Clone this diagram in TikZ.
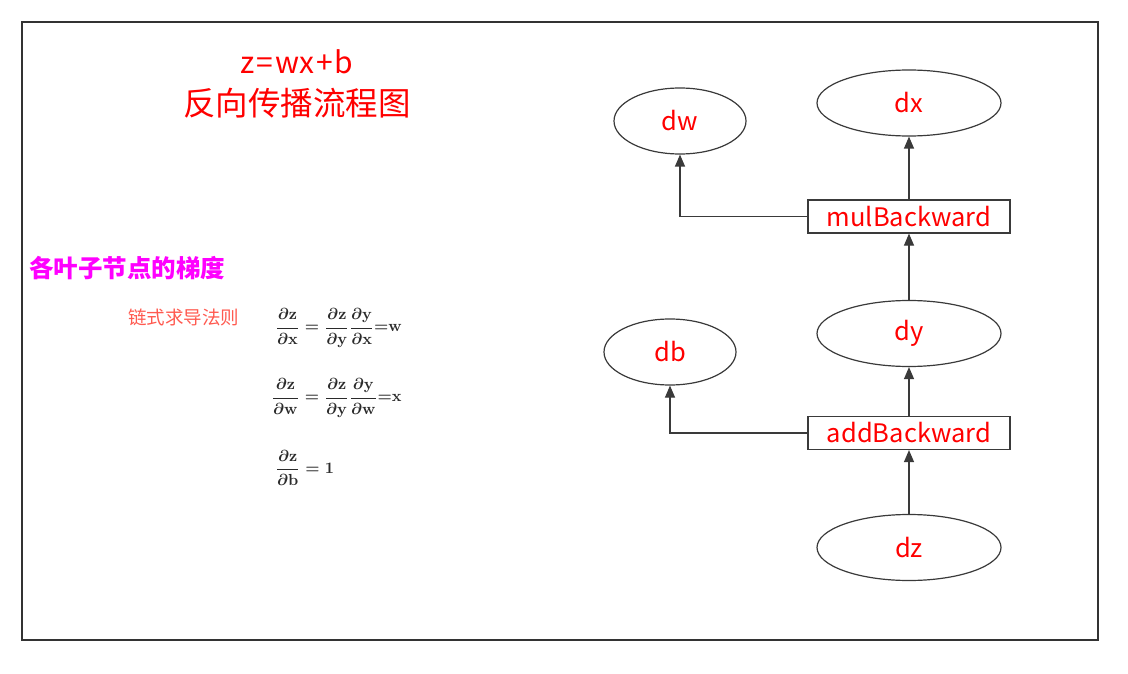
\documentclass[tikz,border=0pt]{standalone}
\usepackage{fontspec}
\usepackage{amsmath}
\usepackage{bm}
\newfontfamily\cjk{Noto Sans CJK SC}
\usetikzlibrary{arrows.meta,shapes.geometric}
\definecolor{framegray}{HTML}{333333}
\definecolor{edgegray}{HTML}{3A3A3A}
\definecolor{labelred}{HTML}{FF0000}
\definecolor{titlemag}{HTML}{FF00FF}
\definecolor{rulered}{HTML}{FF5A50}
\definecolor{mathgray}{HTML}{2A2A2A}
\tikzset{
  leaf/.style={ellipse,draw=edgegray,line width=1.2pt,minimum width=132pt,minimum height=66pt,inner sep=0pt,
    font=\cjk\fontsize{25.5}{28}\selectfont,text=labelred},
  bigleaf/.style={leaf,minimum width=184pt,minimum height=66pt},
  opbox/.style={rectangle,draw=edgegray,line width=1.2pt,minimum width=202pt,minimum height=33pt,inner sep=0pt,
    font=\cjk\fontsize{25.5}{28}\selectfont,text=labelred},
  flow/.style={draw=edgegray,line width=1.2pt,-{Triangle[length=12pt,width=10pt]}},
  formula/.style={anchor=west,inner sep=0pt,text=mathgray,scale=1.75,transform shape=false}
}
\newcommand{\pd}[2]{\dfrac{\partial\mathbf{#1}}{\partial\mathbf{#2}}}
\begin{document}
\begin{tikzpicture}[x=1pt,y=-1pt]
\useasboundingbox[fill=white] (0,0) rectangle (1128,674);
\draw[framegray,line width=1.3pt] (22,22) rectangle (1098,640);

\node[text=labelred,font=\cjk\fontsize{30}{32}\selectfont,inner sep=0pt] (t1) at (297,62) {z\hspace{2pt}=\hspace{2pt}wx\hspace{2pt}+\hspace{2pt}b};
\node[text=labelred,font=\cjk\fontsize{32.5}{36}\selectfont,inner sep=0pt] (t2) at (297,103) {反向传播流程图};

\node[text=titlemag,font=\cjk\bfseries\fontsize{24.5}{26}\selectfont,inner sep=0pt,anchor=west] (h1) at (29,268) {各叶子节点的梯度};
\node[text=rulered,font=\cjk\fontsize{18.5}{20}\selectfont,inner sep=0pt,anchor=west] (h2) at (128,317) {链式求导法则};

\node[anchor=west,inner sep=0pt,text=mathgray] (f1) at (275,328) {\scalebox{1.6}{\boldmath$\pd{z}{x}=\pd{z}{y}\pd{y}{x}{=}\mathbf{w}$}};
\node[anchor=west,inner sep=0pt,text=mathgray] (f2) at (271,398) {\scalebox{1.6}{\boldmath$\pd{z}{w}=\pd{z}{y}\pd{y}{w}{=}\mathbf{x}$}};
\node[anchor=west,inner sep=0pt,text=mathgray] (f3) at (275,468) {\scalebox{1.6}{\boldmath$\pd{z}{b}=\mathbf{1}$}};

\node[leaf] (dw) at (680,121) {dw};
\node[bigleaf] (dx) at (909,103) {dx};
\node[opbox] (mul) at (909,216.5) {mulBackward};
\node[bigleaf] (dy) at (909,333.5) {dy};
\node[leaf] (db) at (670,352) {db};
\node[opbox] (add) at (909,433) {addBackward};
\node[bigleaf] (dz) at (909,547.5) {dz};

\draw[flow] (mul.north) -- (dx.south);
\draw[flow] (mul.west) -| (dw.south);
\draw[flow] (dy.north) -- (mul.south);
\draw[flow] (add.north) -- (dy.south);
\draw[flow] (add.west) -| (db.south);
\draw[flow] (dz.north) -- (add.south);
\end{tikzpicture}
\end{document}
